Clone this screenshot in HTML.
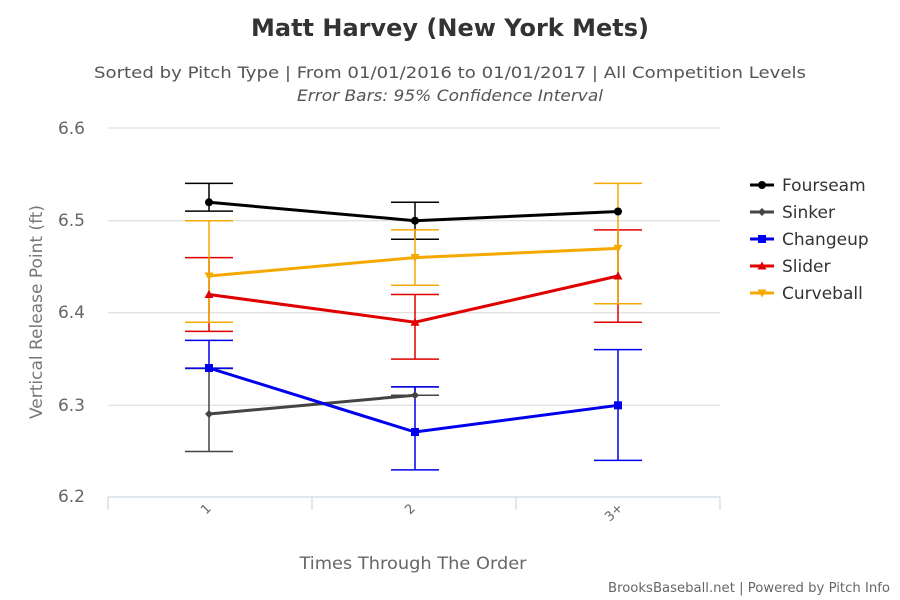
<!DOCTYPE html>
<html><head><style>body{margin:0;background:#fff}svg{display:block}text{font-family:"DejaVu Sans","Liberation Sans",sans-serif}</style></head><body>
<svg width="900" height="600" xmlns="http://www.w3.org/2000/svg">
<text x="450" y="36" text-anchor="middle" font-size="24" font-weight="bold" fill="#333">Matt Harvey (New York Mets)</text>
<text x="450" y="78" text-anchor="middle" font-size="16" fill="#555" textLength="712" lengthAdjust="spacingAndGlyphs">Sorted by Pitch Type | From 01/01/2016 to 01/01/2017 | All Competition Levels</text>
<text x="450" y="101" text-anchor="middle" font-size="16" font-style="italic" fill="#555" textLength="306" lengthAdjust="spacingAndGlyphs">Error Bars: 95% Confidence Interval</text>
<g stroke="#d8d8d8" stroke-width="1">
<line x1="108" x2="720" y1="128" y2="128"/><line x1="108" x2="720" y1="220.7" y2="220.7"/><line x1="108" x2="720" y1="312.7" y2="312.7"/><line x1="108" x2="720" y1="405.3" y2="405.3"/>
</g>
<g stroke="#c0d0e0" stroke-width="1"><line x1="108" x2="720" y1="497" y2="497"/>
<line x1="108" x2="108" y1="497" y2="510"/><line x1="312" x2="312" y1="497" y2="510"/><line x1="516" x2="516" y1="497" y2="510"/><line x1="720" x2="720" y1="497" y2="510"/></g>
<g font-size="17" fill="#666" text-anchor="end"><text x="85" y="134">6.6</text><text x="85" y="226">6.5</text><text x="85" y="318">6.4</text><text x="85" y="411">6.3</text><text x="85" y="502">6.2</text></g>
<g font-size="13" fill="#666"><text transform="translate(206,515) rotate(-45)">1</text><text transform="translate(410,515) rotate(-45)">2</text><text transform="translate(610,522) rotate(-45)">3+</text></g>
<text transform="translate(42,312) rotate(-90)" text-anchor="middle" font-size="17" fill="#777">Vertical Release Point (ft)</text>
<text x="413" y="569" text-anchor="middle" font-size="17" fill="#666" textLength="227" lengthAdjust="spacingAndGlyphs">Times Through The Order</text>
<text x="890" y="592" text-anchor="end" font-size="13" fill="#666" textLength="282" lengthAdjust="spacingAndGlyphs">BrooksBaseball.net | Powered by Pitch Info</text>
<g stroke-width="1.5">
<g stroke="#000"><path d="M209 183.4V211.1M185 183.4H233M185 211.1H233M415 202.3V239.2M391 202.3H439M391 239.2H439"/></g>
<g stroke="#444"><path d="M209 451.5V368.5M185 451.5H233M185 368.5H233M415 386.9V395.2M391 386.9H439M391 395.2H439"/></g>
<g stroke="#0000ee"><path d="M209 340.4V368.1M185 340.4H233M185 368.1H233M415 386.9V469.9M391 386.9H439M391 469.9H439M618 349.6V460.4M594 349.6H642M594 460.4H642"/></g>
<g stroke="#e00000"><path d="M209 257.6V331.4M185 257.6H233M185 331.4H233M415 294.5V359.1M391 294.5H439M391 359.1H439M618 229.9V322.2M594 229.9H642M594 322.2H642"/></g>
<g stroke="#f5a800"><path d="M209 220.7V322.2M185 220.7H233M185 322.2H233M415 229.9V285.3M391 229.9H439M391 285.3H439M618 183.4V303.8M594 183.4H642M594 303.8H642"/></g>
</g>
<g fill="none" stroke-width="3">
<polyline stroke="#000" points="209,202.3 415,220.7 618,211.5"/>
<polyline stroke="#444" points="209,414 415,395.2"/>
<polyline stroke="#0000ee" points="209,368 415,432 618,405.3"/>
<polyline stroke="#e00000" points="209,294.5 415,322.2 618,276"/>
<polyline stroke="#f5a800" points="209,276 415,257.6 618,248.4"/>
</g>
<g fill="#000"><circle cx="209" cy="202.3" r="4"/><circle cx="415" cy="220.7" r="4"/><circle cx="618" cy="211.5" r="4"/></g>
<g fill="#444"><path d="M209 410l4 4-4 4-4-4zM415 391.2l4 4-4 4-4-4z"/></g>
<g fill="#0000ee"><rect x="205" y="364" width="8" height="8"/><rect x="411" y="428" width="8" height="8"/><rect x="614" y="401.3" width="8" height="8"/></g>
<g fill="#e00000"><path d="M209 290l4.5 8h-9zM415 317.7l4.5 8h-9zM618 271.5l4.5 8h-9z"/></g>
<g fill="#f5a800"><path d="M209 280.5l4.5-8h-9zM415 262l4.5-8h-9zM618 252.9l4.5-8h-9z"/></g>
<g font-size="17" fill="#333">
<line x1="750" x2="774" y1="185" y2="185" stroke="#000" stroke-width="3"/><circle cx="762" cy="185" r="4" fill="#000"/><text x="782" y="191">Fourseam</text>
<line x1="750" x2="774" y1="212" y2="212" stroke="#444" stroke-width="3"/><path d="M762 208l4 4-4 4-4-4z" fill="#444"/><text x="782" y="218">Sinker</text>
<line x1="750" x2="774" y1="239" y2="239" stroke="#0000ee" stroke-width="3"/><rect x="758" y="235" width="8" height="8" fill="#0000ee"/><text x="782" y="245">Changeup</text>
<line x1="750" x2="774" y1="266" y2="266" stroke="#e00000" stroke-width="3"/><path d="M762 261.5l4.5 8h-9z" fill="#e00000"/><text x="782" y="272">Slider</text>
<line x1="750" x2="774" y1="293" y2="293" stroke="#f5a800" stroke-width="3"/><path d="M762 297.5l4.5-8h-9z" fill="#f5a800"/><text x="782" y="299">Curveball</text>
</g>
</svg>
</body></html>
